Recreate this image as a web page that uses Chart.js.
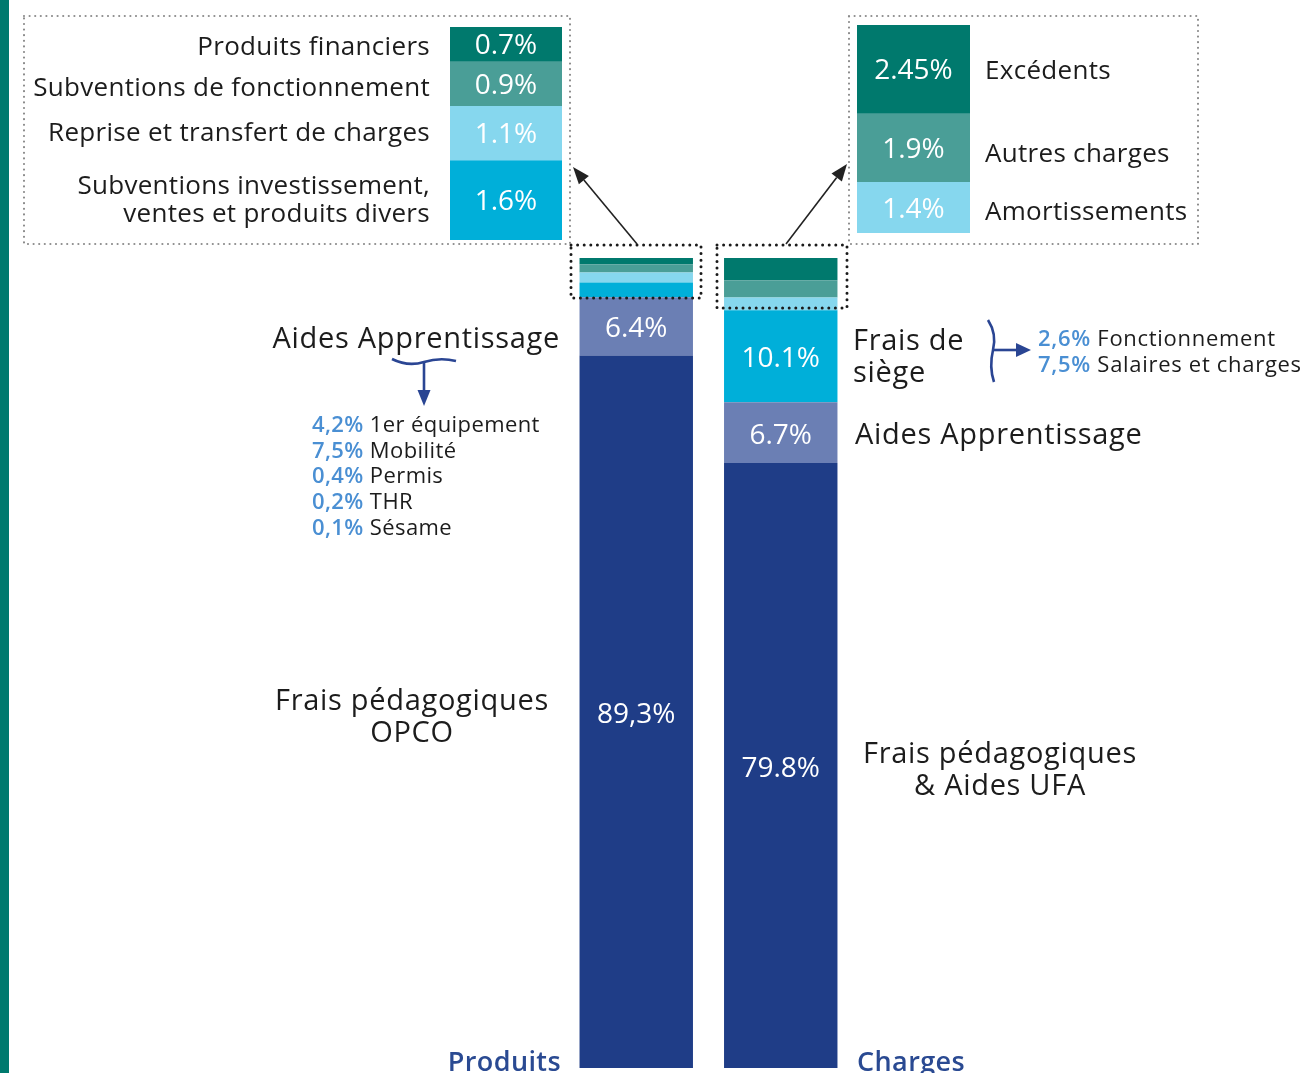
<!DOCTYPE html>
<html lang="fr">
<head>
<meta charset="utf-8">
<title>Produits et charges</title>
<script src="https://cdn.jsdelivr.net/npm/chart.js@4.4.1/dist/chart.umd.min.js"></script>
<style>
  html, body { margin: 0; padding: 0; background: #fff; }
  body { width: 1302px; height: 1073px; position: relative; overflow: hidden; font-family: "Open Sans", sans-serif; color: #1c1c1c; }
  canvas, svg { position: absolute; }
  #edge { position: absolute; left: 0; top: 0; width: 9px; height: 1073px; background: #007a6e; }
  .t { position: absolute; white-space: nowrap; line-height: 1; transform: translateY(-50%); }
  .r { text-align: right; }
  .c { text-align: center; transform: translate(-50%, -50%); }
  .side { font-size: 26px; letter-spacing: 0.3px; }
  .big { font-size: 29px; line-height: 32px; letter-spacing: 0.7px; }
  .list { font-size: 22px; line-height: 25.7px; letter-spacing: 0.4px; }
  .list b { color: #4a8fd3; font-weight: 600; }
  .axis { font-size: 27px; color: #2a4a92; font-weight: 600; letter-spacing: 0.4px; }
</style>
</head>
<body>
<div id="edge"></div>
<canvas id="main" width="1302" height="1073" style="left:0;top:0"></canvas>
<canvas id="insetProduits" width="112" height="213" style="left:450px;top:27px"></canvas>
<canvas id="insetCharges" width="113" height="208" style="left:857px;top:25px"></canvas>

<!-- left side labels -->
<div class="t r side" style="right:872px;top:45px">Produits financiers</div>
<div class="t r side" style="right:872px;top:86px">Subventions de fonctionnement</div>
<div class="t r side" style="right:872px;top:131px">Reprise et transfert de charges</div>
<div class="t r side" style="right:872px;top:198px;line-height:28px">Subventions investissement,<br>ventes et produits divers</div>
<div class="t r big" style="right:742px;top:337px">Aides Apprentissage</div>
<div class="t list" style="left:312px;top:475px">
  <b>4,2%</b> 1er équipement<br><b>7,5%</b> Mobilité<br><b>0,4%</b> Permis<br><b>0,2%</b> THR<br><b>0,1%</b> Sésame
</div>
<div class="t c big" style="left:412px;top:715px">Frais pédagogiques<br>OPCO</div>
<div class="t r axis" style="right:741px;top:1060px">Produits</div>

<!-- right side labels -->
<div class="t side" style="left:985px;top:69px">Excédents</div>
<div class="t side" style="left:985px;top:152px">Autres charges</div>
<div class="t side" style="left:985px;top:210px">Amortissements</div>
<div class="t big" style="left:853px;top:355px">Frais de<br>siège</div>
<div class="t list" style="left:1038px;top:350px;line-height:26px;letter-spacing:0.7px"><b>2,6%</b> Fonctionnement<br><b>7,5%</b> Salaires et charges</div>
<div class="t big" style="left:855px;top:433px">Aides Apprentissage</div>
<div class="t c big" style="left:1000px;top:768px">Frais pédagogiques<br>&amp; Aides UFA</div>
<div class="t axis" style="left:857px;top:1060px">Charges</div>

<svg id="marks" width="1302" height="1073" style="left:0;top:0;pointer-events:none"></svg>

<script>
// Data
const bars = ["Produits", "Charges"];

const produitsLabels = [
  "Frais pédagogiques OPCO",
  "Aides Apprentissage",
  "Subventions investissement, ventes et produits divers",
  "Reprise et transfert de charges",
  "Subventions de fonctionnement",
  "Produits financiers",
];
const produitsValues = [89.3, 6.4, 1.6, 1.1, 0.9, 0.7];
const produitsText = ["89,3%", "6.4%", "1.6%", "1.1%", "0.9%", "0.7%"];

const chargesLabels = [
  "Frais pédagogiques & Aides UFA",
  "Aides Apprentissage",
  "Frais de siège",
  "Amortissements",
  "Autres charges",
  "Excédents",
];
const chargesValues = [79.8, 6.7, 10.1, 1.4, 1.9, 2.45];
const chargesText = ["79.8%", "6.7%", "10.1%", "1.4%", "1.9%", "2.45%"];

// same colour per level in both bars, bottom to top
const levelColors = ["#1f3d87", "#6b7fb4", "#00afd9", "#86d7ee", "#4a9e97", "#00796d"];

const sum = (arr) => arr.reduce((a, b) => a + b, 0);

// white percentages centred on each visible segment
const valueLabels = {
  id: "valueLabels",
  afterDatasetsDraw(chart, args, opts) {
    const { ctx, chartArea } = chart;
    ctx.save();
    ctx.fillStyle = "#fff";
    ctx.font = `${opts.size || 28}px "Open Sans"`;
    ctx.textAlign = "center";
    ctx.textBaseline = "middle";
    chart.data.datasets.forEach((ds, i) => {
      chart.getDatasetMeta(i).data.forEach((bar, j) => {
        if (ds.data[j] == null || !ds.texts) return;
        const top = Math.max(Math.min(bar.y, bar.base), chartArea.top);
        const bottom = Math.min(Math.max(bar.y, bar.base), chartArea.bottom);
        if (bottom - top < (opts.minHeight || 0)) return;
        ctx.fillText(ds.texts[j], bar.x, (top + bottom) / 2 + (opts.shift || 2));
      });
    });
    ctx.restore();
  },
};

// Main stacked bars
const mainDatasets = [];
produitsValues.forEach((v, i) => {
  mainDatasets.push({
    label: produitsLabels[i],
    data: [v, null],
    texts: [produitsText[i], null],
    backgroundColor: levelColors[i],
    yAxisID: "y",
    stack: "all",
  });
});
chargesValues.forEach((v, i) => {
  mainDatasets.push({
    label: chargesLabels[i],
    data: [null, v],
    texts: [null, chargesText[i]],
    backgroundColor: levelColors[i],
    yAxisID: "yc",
    stack: "all",
  });
});

new Chart(document.getElementById("main"), {
  type: "bar",
  data: { labels: bars, datasets: mainDatasets },
  options: {
    responsive: false,
    animation: false,
    layout: { padding: { left: 564, right: 449, top: 258, bottom: 5 } },
    datasets: { bar: { categoryPercentage: 0.785, barPercentage: 1, clip: 0, borderWidth: 0 } },
    plugins: {
      legend: { display: false },
      tooltip: { enabled: false },
      valueLabels: { size: 28, minHeight: 30, shift: 3 },
    },
    scales: {
      x: { display: false, stacked: true },
      // bars are cut at the bottom of the picture, so the axes start above zero
      y: { type: "linear", axis: "y", display: false, stacked: true, min: 11, max: sum(produitsValues) },
      yc: { type: "linear", axis: "y", display: false, stacked: true, min: 13.3, max: sum(chargesValues) },
    },
  },
  plugins: [valueLabels],
});

// Zoomed insets of the small segments
function insetChart(id, values, texts, colors) {
  return new Chart(document.getElementById(id), {
    type: "bar",
    data: {
      labels: [""],
      datasets: values.map((v, i) => ({
        data: [v],
        texts: [texts[i]],
        backgroundColor: colors[i],
      })),
    },
    options: {
      responsive: false,
      animation: false,
      layout: { padding: 0 },
      datasets: { bar: { categoryPercentage: 1, barPercentage: 1, borderWidth: 0 } },
      plugins: {
        legend: { display: false },
        tooltip: { enabled: false },
        valueLabels: { size: 28 },
      },
      scales: {
        x: { display: false, stacked: true },
        y: { display: false, stacked: true, min: 0, max: sum(values) },
      },
    },
    plugins: [valueLabels],
  });
}

insetChart("insetProduits", produitsValues.slice(2), produitsText.slice(2), levelColors.slice(2));
insetChart("insetCharges", chargesValues.slice(3), chargesText.slice(3), levelColors.slice(3));

// Dotted frames, arrows and braces
function dotted(x1, y1, x2, y2, color, w, gap) {
  return `<rect x="${x1}" y="${y1}" width="${x2 - x1}" height="${y2 - y1}" fill="none" stroke="${color}"
    stroke-width="${w}" stroke-dasharray="0 ${gap}" stroke-linecap="round"/>`;
}
function arrow(x1, y1, x2, y2, color, w, len, half) {
  const dx = x2 - x1, dy = y2 - y1;
  const d = Math.hypot(dx, dy);
  const ux = dx / d, uy = dy / d;
  const bx = x2 - ux * len, by = y2 - uy * len;
  const nx = -uy * half, ny = ux * half;
  return `<line x1="${x1}" y1="${y1}" x2="${bx}" y2="${by}" stroke="${color}" stroke-width="${w}"/>
    <polygon points="${x2},${y2} ${bx + nx},${by + ny} ${bx - nx},${by - ny}" fill="${color}"/>`;
}

const navyLine = "#2a4593";
document.getElementById("marks").innerHTML = [
  dotted(24, 16, 570, 244, "#8c8c8c", 2.2, 5.6),
  dotted(849, 16, 1198, 244, "#8c8c8c", 2.2, 5.6),
  dotted(571, 245, 701, 298, "#1a1a1a", 3, 6.6),
  dotted(717, 245, 847, 308, "#1a1a1a", 3, 6.6),
  arrow(637, 244, 573, 167, "#222", 1.6, 17, 6.5),
  arrow(786, 244, 847, 164, "#222", 1.6, 17, 6.5),
  // wave under "Aides Apprentissage"
  `<path d="M392,359 Q408,367 424,362 Q440,357 456,361" fill="none" stroke="${navyLine}" stroke-width="2.6"/>`,
  arrow(424, 362, 424, 406, navyLine, 2.6, 16, 6.5),
  // brace next to "Frais de siège"
  `<path d="M988,320 Q997,334 993,350 Q989,367 994,382" fill="none" stroke="${navyLine}" stroke-width="2.6"/>`,
  arrow(993, 350, 1031, 350, navyLine, 2.6, 15, 7),
].join("");
</script>
</body>
</html>
